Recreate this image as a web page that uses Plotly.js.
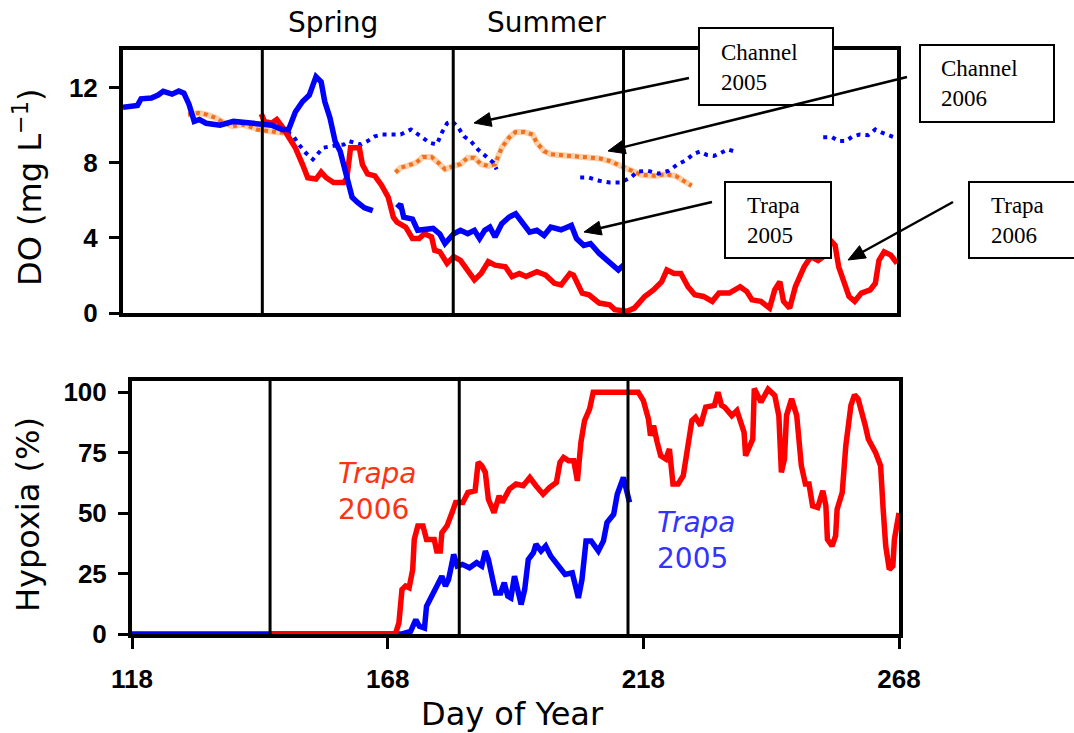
<!DOCTYPE html>
<html>
<head>
<meta charset="utf-8">
<script src="https://cdn.plot.ly/plotly-3.0.1.min.js"></script>
<style>html,body{margin:0;padding:0;background:#fff;}#chart{width:1074px;height:733px;}</style>
</head>
<body>
<div id="chart"></div>
<script>
// ---------- DATA ----------
// Top panel: dissolved oxygen (mg/L) vs day of year
const trapa05Day = [118,120.8,121.5,123.5,124.8,125.8,127.5,128.8,129.8,130.8,131.8,132.8,134.1,136.8,139.4,142.1,144.8,146.8,148.8,150.1,151.4,152.8,154.1,155.4,156.4,157.1,158.1,159.1,160.1,161.4,162.4,163.4,164.8,166.4,null,171.1,171.8,172.4,174.1,175.1,178.1,179.4,180.4,182.1,183.4,184.8,186.1,187.1,188.1,189.1,190.1,191.4,192.8,194.1,195.4,196.8,198.2,199.6,200.9,202.9,204.9,205.9,207.3,208.6,210.3,212.3,214.0,215.0];
const trapa05DO  = [10.95,11.05,11.4,11.44,11.6,11.8,11.65,11.82,11.7,11.1,10.2,10.3,10.1,10.0,10.2,10.1,10.0,10.0,9.77,9.77,10.7,11.26,11.6,12.58,12.3,11.26,10.4,9.15,8.6,7.2,6.16,5.9,5.6,5.45,null,5.6,5.8,5.1,5.0,4.4,4.5,4.2,3.7,4.22,4.4,4.22,4.4,3.96,4.4,4.57,4.05,4.75,5.1,5.28,4.75,4.3,4.4,4.13,4.57,4.43,4.66,3.96,3.6,3.7,3.17,2.73,2.29,2.55];

const trapa06Day = [144.8,145.4,146.8,147.8,148.8,149.8,150.8,151.4,152.8,153.8,155.4,156.4,157.4,158.8,160.8,161.4,162.1,163.1,163.8,164.4,165.4,166.8,168.1,169.4,170.4,171.1,172.8,174.1,175.4,176.4,177.8,178.4,179.4,180.8,182.1,183.4,184.8,186.1,187.4,188.8,190.1,192.1,193.4,194.8,196.1,198.2,199.9,201.6,202.9,204.6,205.3,207.0,208.3,210.3,212.3,213.3,215.7,217.1,219.1,220.8,222.4,223.4,224.8,226.1,227.5,228.8,230.5,232.2,233.5,235.5,237.6,238.9,239.9,241.6,243.3,244.3,245.3,246.0,247.2,248.3,250.0,251.3,252.7,253.7,255.0,256.0,256.7,257.7,258.7,259.8,261.1,262.8,263.8,264.5,265.5,266.8,268];
const trapa06DO  = [10.6,10.2,10.1,10.3,9.94,9.5,8.97,8.8,7.9,7.2,7.13,7.5,7.2,6.95,6.95,7.2,8.8,8.8,8.8,7.9,7.4,7.3,6.8,6.16,5.1,4.84,4.57,3.96,3.96,4.22,4.05,3.34,3.26,2.64,3.0,2.8,2.29,1.76,2.1,2.73,2.55,2.46,1.94,2.1,1.94,2.2,2.02,1.58,1.5,2.1,2.02,1.06,0.97,0.53,0.44,0.18,0.09,0.26,0.88,1.23,1.67,2.29,2.1,2.1,1.4,0.97,0.88,0.62,1.06,1.06,1.4,1.14,0.7,0.62,0.26,1.23,1.67,0.62,0.26,1.4,2.46,3.0,2.8,3.0,3.9,3.6,2.46,1.58,0.88,0.62,1.06,1.23,1.58,2.8,3.26,3.08,2.64];

const channel05Day = [149.8,150.8,152.1,153.4,154.8,155.8,156.8,158.8,160.8,161.8,162.8,164.1,165.4,166.8,168.1,170.1,171.8,173.8,174.8,176.1,177.4,178.8,179.8,180.8,181.8,182.8,184.1,185.4,186.8,188.4,189.8,190.4,null,206.6,208.3,210.3,212.3,214.4,216.4,217.7,219.7,221.8,223.8,225.5,227.1,228.5,229.8,231.2,232.5,233.9,235.2,236.9,null,253.7,255.4,256.7,258.1,259.4,260.8,262.4,263.8,265.1,266.8,268];
const channel05DO  = [9.6,9.5,8.97,8.53,8.18,8.53,8.8,8.9,8.97,9.15,9.06,8.97,9.15,9.4,9.5,9.5,9.5,9.77,9.6,9.33,9.06,8.97,9.6,10.1,10.2,9.94,9.4,9.15,8.7,8.36,8.0,7.65,null,7.21,7.21,7.04,6.95,6.95,7.21,7.53,7.57,7.42,7.57,7.92,8.13,8.45,8.59,8.41,8.36,8.53,8.71,8.57,null,9.36,9.36,9.15,9.15,9.4,9.5,9.47,9.77,9.6,9.4,9.3];

const channel06Day = [130.6,132.6,134.3,136.0,137.6,139.3,141.0,142.4,143.8,145.4,147.4,149.1,null,170.8,171.8,173.1,174.8,176.1,177.8,179.1,180.4,182.1,183.4,184.8,186.1,187.4,188.8,190.1,191.4,192.8,194.1,195.8,197.4,198.2,199.6,200.9,202.9,205.6,207.6,210.3,212.3,214.4,216.4,218.4,221.1,223.1,225.1,226.5,228.2];
const channel06DO  = [10.56,10.65,10.56,10.38,10.12,9.94,10.03,9.94,9.77,9.71,9.64,9.59,null,7.48,7.74,7.83,8.0,8.3,8.3,8.0,7.65,7.83,7.92,8.27,8.27,7.92,7.83,7.92,8.8,9.33,9.64,9.64,9.5,9.06,8.62,8.45,8.41,8.36,8.27,8.23,8.09,7.83,7.57,7.36,7.3,7.39,7.3,7.04,6.77];

// Bottom panel: hypoxia (%) vs day of year
const hyp05Day = [118,170.8,172.5,173.5,174.2,175.2,175.6,176.9,177.9,178.6,179.3,179.9,180.6,180.9,181.6,182.6,184.0,185.4,186.4,187.1,187.7,188.4,189.1,190.1,190.8,191.5,192.1,192.8,193.5,194.1,194.8,195.5,196.5,197.0,198.0,198.9,199.9,201.3,202.7,204.1,204.8,205.3,206.0,206.8,207.8,209.2,210.2,210.9,212.2,212.9,214.1,215.3];
const hyp05Pct = [0,0,1.1,5.9,3.2,2.5,11.5,17.0,21.9,23.9,19.8,22.5,29.5,32.9,28.1,28.8,27.4,29.5,28.1,34.3,30.8,22.5,17.0,17.0,21.2,15.6,14.9,23.9,17.0,12.2,18.4,30.8,33.6,37.1,34.3,36.4,32.2,28.1,24.6,25.3,18.4,14.9,22.5,38.5,38.5,34.3,38.5,46.1,49.5,57.8,64.7,54.4];

const hyp06Day = [145,169.5,170.2,170.8,171.5,172.2,172.9,173.2,173.9,174.9,175.6,177.1,177.6,178.3,178.6,179.6,180.6,181.3,182.7,183.7,185.1,185.7,186.4,187.1,187.7,188.8,189.8,190.4,191.8,193.1,194.5,195.8,197.0,198.4,199.7,201.0,201.7,202.4,203.4,204.4,205.1,205.8,206.5,207.5,208.2,217.0,218.0,219.0,219.4,220.0,220.7,221.4,222.4,223.1,223.8,224.8,225.8,226.5,227.5,228.2,229.2,230.2,231.9,232.6,233.3,233.9,235.3,236.3,237.7,238.0,238.7,239.4,239.7,241.0,242.4,243.7,244.5,245.0,245.6,246.0,247.0,248.0,248.9,249.7,250.4,251.1,252.1,253.1,253.7,254.0,254.9,255.6,255.9,256.9,257.6,258.6,259.3,260.0,261.4,262.0,263.4,264.4,264.9,265.4,266.1,266.8,267.1,268];
const hyp06Pct = [0,0,4.6,18.4,19.8,19.1,26.7,39.1,44.7,44.7,39.1,39.1,34.3,34.3,41.9,44.7,50.2,54.4,54.4,58.5,59.2,71.0,69.6,66.8,55.7,50.2,57.1,54.4,59.9,62.0,61.3,64.7,61.3,57.8,60.6,62.7,71.0,73.0,71.6,71.6,63.3,79.3,88.2,93.1,100,100,96.5,88.9,82.0,86.2,79.3,73.7,72.3,76.5,62.0,62.0,65.4,76.5,88.2,89.6,86.2,93.8,94.5,100,94.5,93.8,90.3,92.4,83.4,73.7,77.2,80.6,101.5,95.9,101.2,98.6,90.3,66.8,72.3,90.3,97.2,90.3,69.6,62.0,62.0,53.0,52.3,59.2,53.0,39.1,36.4,40.5,51.6,58.5,77.9,94.5,98.9,97.2,86.2,80.6,75.1,69.6,51.6,36.4,26.7,28.1,39.1,50];

// Axis ticks and season boundaries
const xTicks = [118,168,218,268];
const xTickText = ['118','168','218','268'];
const doTicks = [0,4,8,12];
const hypTicks = [0,25,50,75,100];
const seasonBounds = [145,182,215];
const seasonNames = ['Spring','Summer'];

// ---------- FIGURE ----------
const W = 1074, H = 733;
const PX = p => p / W;           // pixel x -> paper
const PY = p => 1 - p / H;       // pixel y -> paper

const thick = 5.5;
const traces = [
  {x: channel06Day, y: channel06DO, xaxis:'x', yaxis:'y', mode:'lines', line:{color:'#fbcfa8', width:6}, hoverinfo:'skip', cliponaxis:false},
  {x: channel06Day, y: channel06DO, xaxis:'x', yaxis:'y', mode:'lines', line:{color:'#f07020', width:4, dash:'4px,4px'}, cliponaxis:false},
  {x: channel05Day, y: channel05DO, xaxis:'x', yaxis:'y', mode:'lines', line:{color:'#0000ff', width:4, dash:'4px,5px'}, cliponaxis:false},
  {x: trapa06Day, y: trapa06DO, xaxis:'x', yaxis:'y', mode:'lines', line:{color:'#ff0000', width:thick}, cliponaxis:false},
  {x: trapa05Day, y: trapa05DO, xaxis:'x', yaxis:'y', mode:'lines', line:{color:'#0000ff', width:thick}, cliponaxis:false},
  {x: hyp05Day, y: hyp05Pct, xaxis:'x2', yaxis:'y2', mode:'lines', line:{color:'#0000ff', width:thick}, cliponaxis:false},
  {x: hyp06Day, y: hyp06Pct, xaxis:'x2', yaxis:'y2', mode:'lines', line:{color:'#ff0000', width:thick}, cliponaxis:false}
];

const tickFont = {family:'Liberation Sans, Arial, sans-serif', size:26, weight:'bold', color:'#000'};
const baseAxis = {showgrid:false, zeroline:false, showline:true, linecolor:'#000', linewidth:4, mirror:true, layer:'below traces', fixedrange:true};

const shapes = [];
seasonBounds.forEach(d => {
  shapes.push({type:'line', xref:'x', yref:'y domain', x0:d, x1:d, y0:0, y1:1, line:{color:'#000', width:3}});
  shapes.push({type:'line', xref:'x2', yref:'y2 domain', x0:d, x1:d, y0:0, y1:1, line:{color:'#000', width:3}});
});
// label boxes (pixel rectangles)
const boxes = [[699,28,833,105],[920,45,1054,122],[725,182,831,258],[969,182,1110,258]];
boxes.forEach(b => shapes.push({type:'rect', xref:'paper', yref:'paper', x0:PX(b[0]), x1:PX(b[2]), y0:PY(b[3]), y1:PY(b[1]), fillcolor:'#fff', line:{color:'#000', width:2}, layer:'above'}));

// arrows: [headX, headY, tailX, tailY] in pixels -> line + filled head
const arrows = [[474,123,689,78],[608,151,907,77],[584,232,712,202],[848,260,953,202]];
arrows.forEach(a => {
  const dx = a[0]-a[2], dy = a[1]-a[3], L = Math.hypot(dx, dy);
  const ux = dx/L, uy = dy/L, nx = -uy, ny = ux;
  const hl = 17, hw = 7;
  const bx = a[0]-hl*ux, by = a[1]-hl*uy;
  shapes.push({type:'line', xref:'paper', yref:'paper', x0:PX(a[2]), y0:PY(a[3]), x1:PX(bx+2*ux), y1:PY(by+2*uy), line:{color:'#000', width:2.5}, layer:'above'});
  const p = 'M ' + PX(a[0]) + ' ' + PY(a[1]) + ' L ' + PX(bx+hw*nx) + ' ' + PY(by+hw*ny) + ' L ' + PX(bx-hw*nx) + ' ' + PY(by-hw*ny) + ' Z';
  shapes.push({type:'path', xref:'paper', yref:'paper', path:p, fillcolor:'#000', line:{color:'#000', width:1}, layer:'above'});
});

const serif = {family:'Liberation Serif, Times New Roman, serif', size:23, color:'#000'};
const gul = {family:'DejaVu Sans, sans-serif', size:28, color:'#000'};
const annotations = [
  {text:seasonNames[0], xref:'paper', yref:'paper', x:PX(333), y:PY(22), showarrow:false, font:gul, xanchor:'center', yanchor:'middle'},
  {text:seasonNames[1], xref:'paper', yref:'paper', x:PX(546), y:PY(22), showarrow:false, font:gul, xanchor:'center', yanchor:'middle'},
  {text:'DO (mg L<sup>−1</sup>)', xref:'paper', yref:'paper', x:PX(28), y:PY(188), textangle:-90, showarrow:false, font:{family:'DejaVu Sans, sans-serif', size:32, color:'#000'}, xanchor:'center', yanchor:'middle'},
  {text:'Hypoxia (%)', xref:'paper', yref:'paper', x:PX(28), y:PY(515), textangle:-90, showarrow:false, font:{family:'DejaVu Sans, sans-serif', size:32, color:'#000'}, xanchor:'center', yanchor:'middle'},
  {text:'Day of Year', xref:'paper', yref:'paper', x:PX(512), y:PY(714), showarrow:false, font:{family:'DejaVu Sans, sans-serif', size:32, color:'#000'}, xanchor:'center', yanchor:'middle'},
  {text:'<i>Trapa</i><br>2006', xref:'paper', yref:'paper', x:PX(336), y:PY(491), showarrow:false, align:'left', font:{family:'DejaVu Sans, sans-serif', size:28, color:'#ff3311'}, xanchor:'left', yanchor:'middle'},
  {text:'<i>Trapa</i><br>2005', xref:'paper', yref:'paper', x:PX(655), y:PY(540), showarrow:false, align:'left', font:{family:'DejaVu Sans, sans-serif', size:28, color:'#3333ff'}, xanchor:'left', yanchor:'middle'},
  {text:'Channel<br>2005', xref:'paper', yref:'paper', x:PX(719), y:PY(67), showarrow:false, align:'left', font:serif, xanchor:'left', yanchor:'middle'},
  {text:'Channel<br>2006', xref:'paper', yref:'paper', x:PX(939), y:PY(84), showarrow:false, align:'left', font:serif, xanchor:'left', yanchor:'middle'},
  {text:'Trapa<br>2005', xref:'paper', yref:'paper', x:PX(745), y:PY(220), showarrow:false, align:'left', font:serif, xanchor:'left', yanchor:'middle'},
  {text:'Trapa<br>2006', xref:'paper', yref:'paper', x:PX(989), y:PY(220), showarrow:false, align:'left', font:serif, xanchor:'left', yanchor:'middle'}
];

const layout = {
  width:W, height:H, margin:{l:0, r:0, t:0, b:0}, paper_bgcolor:'#fff', plot_bgcolor:'#fff', showlegend:false,
  xaxis: Object.assign({}, baseAxis, {domain:[PX(123), PX(897)], range:[118,268], ticks:'', showticklabels:false, anchor:'y'}),
  yaxis: Object.assign({}, baseAxis, {domain:[PY(313), PY(50)], range:[0,14], tickvals:doTicks, ticks:'outside', ticklen:10, tickwidth:3, tickcolor:'#000', tickfont:tickFont, ticklabelstandoff:6, anchor:'x'}),
  xaxis2: Object.assign({}, baseAxis, {domain:[PX(132), PX(899)], range:[118,268], tickvals:xTicks, ticktext:xTickText, ticks:'outside', ticklen:11, tickwidth:3, tickcolor:'#000', tickfont:tickFont, ticklabelstandoff:8, anchor:'y2'}),
  yaxis2: Object.assign({}, baseAxis, {domain:[PY(634), PY(381)], range:[0,104.6], tickvals:hypTicks, ticks:'outside', ticklen:10, tickwidth:3, tickcolor:'#000', tickfont:tickFont, ticklabelstandoff:6, anchor:'x2'}),
  shapes: shapes,
  annotations: annotations
};

Plotly.newPlot('chart', traces, layout, {displayModeBar:false, staticPlot:true});
</script>
</body>
</html>
